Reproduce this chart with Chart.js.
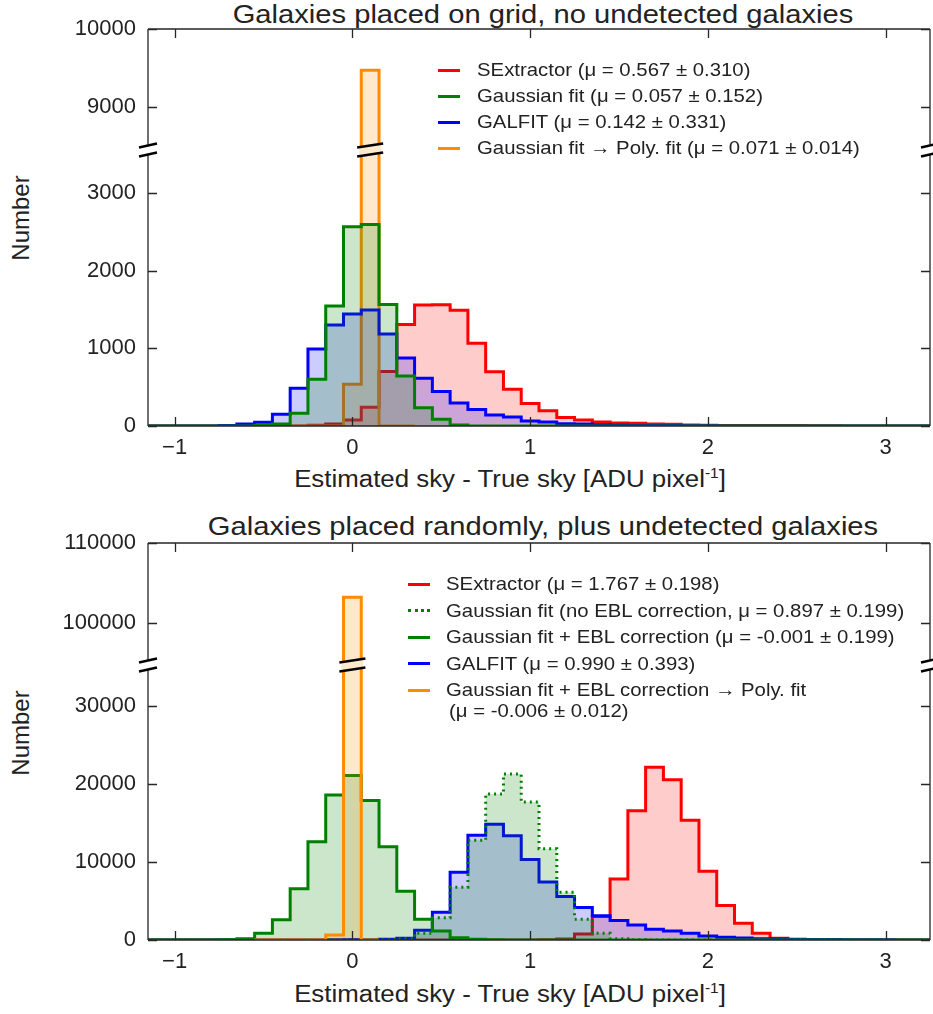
<!DOCTYPE html>
<html>
<head>
<meta charset="utf-8">
<title>Sky residual histograms</title>
<script src="https://cdn.jsdelivr.net/npm/chart.js@4.4.1/dist/chart.umd.min.js"></script>
<style>
  body { margin: 0; background: #fff; }
  #page { position: relative; width: 933px; height: 1014px; overflow: hidden;
          font-family: "Liberation Sans", Arial, sans-serif; color: #222; }
  canvas { position: absolute; left: 0; }
  .title, .xlabel { position: absolute; width: 782px; text-align: center;
                    line-height: 1; white-space: nowrap; transform: scaleX(1.1); }
  .title { left: 152px; font-size: 26.5px; }
  .xlabel { left: 119px; font-size: 23.5px; }
  .xlabel sup { font-size: 14px; vertical-align: 9px; line-height: 0; }
  .ylabel { position: absolute; left: -79px; width: 200px; text-align: center; font-size: 24px;
            line-height: 1; transform: rotate(-90deg); }
  .leg { position: absolute; font-size: 18.5px; line-height: 1; white-space: nowrap;
         transform: scaleX(1.1); transform-origin: left center; }
  .sw { position: absolute; width: 22px; height: 0; }
</style>
</head>
<body>
<div id="page">
  <div class="title" style="top:1px">Galaxies placed on grid, no undetected galaxies</div>
  <div class="ylabel" style="top:206px">Number</div>
  <div class="xlabel" style="top:468px">Estimated sky - True sky [ADU pixel<sup>-1</sup>]</div>
  <canvas id="gridUpper"></canvas>
  <canvas id="gridLower"></canvas>

  <div class="title" style="top:513px">Galaxies placed randomly, plus undetected galaxies</div>
  <div class="ylabel" style="top:721px">Number</div>
  <div class="xlabel" style="top:983px">Estimated sky - True sky [ADU pixel<sup>-1</sup>]</div>
  <canvas id="randUpper"></canvas>
  <canvas id="randLower"></canvas>
</div>
<script>
// bins are 0.1 wide, edges at ...,-0.05, 0.05, 0.15,...
const BIN_WIDTH = 0.1;
const X_MIN = -1.15;
const X_MAX = 3.25;
const xTickValues = [-1, 0, 1, 2, 3];

// --- top panel: galaxies on grid ---
const gridUpperTicks = [9000, 10000];
const gridLowerTicks = [0, 1000, 2000, 3000];

const gridSexStart = -0.25;
const gridSex = [9, 26, 77, 240, 700, 1305, 1555, 1560, 1490, 1065, 697, 473, 290, 197, 109,
                 78, 52, 39, 35, 26, 22, 13, 10, 8, 7, 6, 5, 5, 4, 3];
const gridGaussStart = -0.55;
const gridGauss = [9, 26, 163, 600, 1543, 2562, 2592, 1564, 643, 236, 86, 13];
const gridGalfitStart = -0.75;
const gridGalfit = [5, 26, 47, 150, 484, 990, 1298, 1440, 1491, 1183, 874, 615, 444, 297,
                    211, 140, 115, 65, 50, 30, 26, 17, 10, 8, 6, 5, 4, 3];
const gridPolyStart = -0.35;
const gridPoly = [0, 0, 0, 536, 9470, 0, 0];

// --- bottom panel: random placement ---
const randUpperTicks = [100000, 110000];
const randLowerTicks = [0, 10000, 20000, 30000];

const randSexStart = 1.05;
const randSex = [43, 129, 774, 3010, 7826, 16555, 22145, 20554, 15351, 8815, 4429, 2150, 860, 215, 43];
const randNoEblStart = 0.05;
const randNoEbl = [20, 43, 172, 860, 2850, 6751, 12790, 18705, 21285, 17680, 11696, 6106, 2666, 860, 172, 43];
const randEblStart = -0.75;
const randEbl = [43, 172, 860, 2580, 6580, 12600, 18576, 21070, 17890, 11954, 6235, 2666, 1150, 300, 86, 20];
const randGalfitStart = -0.15;
const randGalfit = [40, 60, 40, 86, 240, 1250, 3570, 8686, 13416, 14835, 13370, 10320, 7439, 5590,
                    4171, 3096, 2494, 1935, 1376, 1161, 860, 516, 344, 258, 172, 129, 86, 60, 50,
                    40, 30, 20, 15, 10];
const randPolyStart = -0.55;
const randPoly = [0, 0, 0, 0, 645, 103200, 0];

const gridLegend = [
    { text: 'SExtractor (\u03bc = 0.567 \u00b1 0.310)', color: '#ff0000' },
    { text: 'Gaussian fit (\u03bc = 0.057 \u00b1 0.152)', color: '#008000' },
    { text: 'GALFIT (\u03bc = 0.142 \u00b1 0.331)', color: '#0000ff' },
    { text: 'Gaussian fit \u2192 Poly. fit (\u03bc = 0.071 \u00b1 0.014)', color: '#ff8c00' },
];
const randLegend = [
    { text: 'SExtractor (\u03bc = 1.767 \u00b1 0.198)', color: '#ff0000' },
    { text: 'Gaussian fit (no EBL correction, \u03bc = 0.897 \u00b1 0.199)', color: '#008000', dotted: true },
    { text: 'Gaussian fit + EBL correction (\u03bc = -0.001 \u00b1 0.199)', color: '#008000' },
    { text: 'GALFIT (\u03bc = 0.990 \u00b1 0.393)', color: '#0000ff' },
    { text: 'Gaussian fit + EBL correction \u2192 Poly. fit', color: '#ff8c00',
      more: '(\u03bc = -0.006 \u00b1 0.012)' },
];

const RED = ['#ff0000', 'rgba(255,0,0,0.2)'];
const GREEN = ['#008000', 'rgba(0,128,0,0.2)'];
const BLUE = ['#0000ff', 'rgba(0,0,255,0.2)'];
const ORANGE = ['#ff8c00', 'rgba(255,140,0,0.2)'];
const INK = '#262626';
const tickFont = { family: '"Liberation Sans", Arial, sans-serif', size: 22 };

// --- Helpers ---

// step outline points: one per left bin edge, closed at the right edge
function histogram(start, counts, full) {
    const from = full ? X_MIN : start;
    const n = full ? Math.round((X_MAX - X_MIN) / BIN_WIDTH) : counts.length;
    const offset = Math.round((start - from) / BIN_WIDTH);
    const pts = [{ x: from, y: 0 }];
    for (let k = 0; k < n; k++) {
        const c = counts[k - offset];
        pts.push({ x: +(from + k * BIN_WIDTH).toFixed(2), y: c === undefined ? 0 : c });
    }
    pts.push({ x: +(from + n * BIN_WIDTH).toFixed(2), y: 0 });
    return pts;
}

function series(pts, colors, dash) {
    return {
        data: pts,
        borderColor: colors[0],
        backgroundColor: colors[1],
        borderWidth: 3,
        borderDash: dash || [],
        borderJoinStyle: 'miter',
        stepped: 'before',   // hold each value until the next edge
        fill: 'origin',
        pointRadius: 0,
    };
}

// centre of the tallest bin, where the axis break crosses the bar
function peakCenter(start, counts) {
    const i = counts.indexOf(Math.max(...counts));
    return start + (i + 0.5) * BIN_WIDTH;
}

function breakMark(ctx, cx, cy, half, band) {
    const gap = 4.5, rise = 2;
    band.forEach(([x0, x1, color]) => {
        ctx.fillStyle = color;
        ctx.beginPath();
        ctx.moveTo(x0, cy - gap + rise * (cx - x0) / half);
        ctx.lineTo(x1, cy - gap - rise * (x1 - cx) / half);
        ctx.lineTo(x1, cy + gap - rise * (x1 - cx) / half);
        ctx.lineTo(x0, cy + gap + rise * (cx - x0) / half);
        ctx.closePath();
        ctx.fill();
    });
    ctx.strokeStyle = '#000';
    ctx.lineWidth = 2.5;
    ctx.beginPath();
    [-gap, gap].forEach(g => {
        ctx.moveTo(cx - half, cy + g + rise);
        ctx.lineTo(cx + half, cy + g - rise);
    });
    ctx.stroke();
}

// spines, inward ticks on all sides, and the broken-axis marks
const framePlugin = {
    id: 'frame',
    afterDraw(chart, args, opts) {
        const { ctx, chartArea: a, scales: { x, y } } = chart;
        const L = 9;
        ctx.save();
        ctx.strokeStyle = INK;
        ctx.lineWidth = 1.3;
        ctx.beginPath();
        ctx.moveTo(a.left, a.top); ctx.lineTo(a.left, a.bottom);
        ctx.moveTo(a.right, a.top); ctx.lineTo(a.right, a.bottom);
        if (opts.top) { ctx.moveTo(a.left, a.top); ctx.lineTo(a.right, a.top); }
        if (opts.bottom) { ctx.moveTo(a.left, a.bottom); ctx.lineTo(a.right, a.bottom); }
        y.ticks.forEach(t => {
            const py = Math.round(y.getPixelForValue(t.value)) + 0.5;
            ctx.moveTo(a.left, py); ctx.lineTo(a.left + L, py);
            ctx.moveTo(a.right, py); ctx.lineTo(a.right - L, py);
        });
        xTickValues.forEach(v => {
            const px = Math.round(x.getPixelForValue(v)) + 0.5;
            if (opts.top) { ctx.moveTo(px, a.top); ctx.lineTo(px, a.top + L); }
            if (opts.bottom) { ctx.moveTo(px, a.bottom); ctx.lineTo(px, a.bottom - L); }
        });
        ctx.stroke();

        if (opts.barCenter !== undefined) {
            const cy = a.top;
            breakMark(ctx, a.left, cy, 9, [[a.left - 9, a.left + 9, '#fff']]);
            breakMark(ctx, a.right, cy, 9, [[a.right - 9, a.right + 9, '#fff']]);
            const bc = x.getPixelForValue(opts.barCenter);
            const b0 = x.getPixelForValue(opts.barCenter - BIN_WIDTH / 2) - 2;
            const b1 = x.getPixelForValue(opts.barCenter + BIN_WIDTH / 2) + 2;
            breakMark(ctx, bc, cy, 13, [[bc - 13, bc + 13, '#fff'], [b0, b1, '#ffe8cc']]);
        }
        ctx.restore();
    }
};

function makeChart(id, top, height, padTop, yMin, yMax, yTicks, showX, datasets, frame) {
    const canvas = document.getElementById(id);
    canvas.width = 933;
    canvas.height = height;
    canvas.style.top = top + 'px';
    return new Chart(canvas, {
        type: 'line',
        data: { datasets },
        options: {
            responsive: false,
            animation: false,
            devicePixelRatio: 1,
            layout: { padding: { top: padTop, right: 3, bottom: 0, left: 0 } },
            plugins: { legend: { display: false }, tooltip: { enabled: false }, frame },
            scales: {
                x: {
                    type: 'linear', min: X_MIN, max: X_MAX, display: showX,
                    grid: { display: false, drawTicks: false },
                    border: { display: false },
                    afterBuildTicks: s => { s.ticks = xTickValues.map(v => ({ value: v })); },
                    afterFit: s => {
                        s.height = showX ? 44 : 0;
                        s.paddingLeft = 0;
                        s.paddingRight = 0;
                    },
                    ticks: {
                        font: tickFont, color: '#222', padding: 9, maxRotation: 0, autoSkip: false,
                        callback: v => (v < 0 ? '\u2212' + Math.abs(v) : String(v)),
                    },
                },
                y: {
                    type: 'linear', min: yMin, max: yMax,
                    grid: { display: false, drawTicks: false },
                    border: { display: false },
                    afterBuildTicks: s => { s.ticks = yTicks.map(v => ({ value: v })); },
                    afterFit: s => { s.width = 148; s.paddingTop = 0; s.paddingBottom = 0; },
                    ticks: { font: tickFont, color: '#222', padding: 12, callback: v => String(v) },
                },
            },
        },
        plugins: [framePlugin],
    });
}

function addLegend(items, swLeft, textLeft, firstY, stepY) {
    const page = document.getElementById('page');
    items.forEach((it, i) => {
        const y = firstY + i * stepY;
        const sw = document.createElement('div');
        sw.className = 'sw';
        sw.style.left = swLeft + 'px';
        sw.style.top = (y - 1.5) + 'px';
        sw.style.borderTop = '3px ' + (it.dotted ? 'dotted ' : 'solid ') + it.color;
        page.appendChild(sw);
        const tx = document.createElement('div');
        tx.className = 'leg';
        tx.style.left = textLeft + 'px';
        tx.style.top = (y - 9) + 'px';
        tx.textContent = it.text;
        page.appendChild(tx);
        if (it.more) {
            const t2 = document.createElement('div');
            t2.className = 'leg';
            t2.style.left = (textLeft + 3) + 'px';
            t2.style.top = (y + 12) + 'px';
            t2.textContent = it.more;
            page.appendChild(t2);
        }
    });
}

// --- Init ---

function gridSets() {
    return [
        series(histogram(gridGaussStart, gridGauss, true), GREEN),
        series(histogram(gridGalfitStart, gridGalfit, true), BLUE),
        series(histogram(gridPolyStart, gridPoly, false), ORANGE),
        series(histogram(gridSexStart, gridSex, true), RED),
    ];
}

function randSets() {
    return [
        series(histogram(randPolyStart, randPoly, false), ORANGE),
        series(histogram(randEblStart, randEbl, true), GREEN),
        series(histogram(randNoEblStart, randNoEbl, true), GREEN, [2, 4]),
        series(histogram(randGalfitStart, randGalfit, true), BLUE),
        series(histogram(randSexStart, randSex, true), RED),
    ];
}

makeChart('gridUpper', 9, 141, 20, 8450, 10000, gridUpperTicks, false, gridSets(),
          { top: true });
makeChart('gridLower', 140, 330, 10, 0, 3550, gridLowerTicks, true, gridSets(),
          { bottom: true, barCenter: peakCenter(gridPolyStart, gridPoly) });
makeChart('randUpper', 523, 142, 20, 94700, 110000, randUpperTicks, false, randSets(),
          { top: true });
makeChart('randLower', 655, 329, 10, 0, 35250, randLowerTicks, true, randSets(),
          { bottom: true, barCenter: peakCenter(randPolyStart, randPoly) });

addLegend(gridLegend, 438, 477, 70, 26);
addLegend(randLegend, 408, 446, 584, 26.5);
</script>
</body>
</html>
